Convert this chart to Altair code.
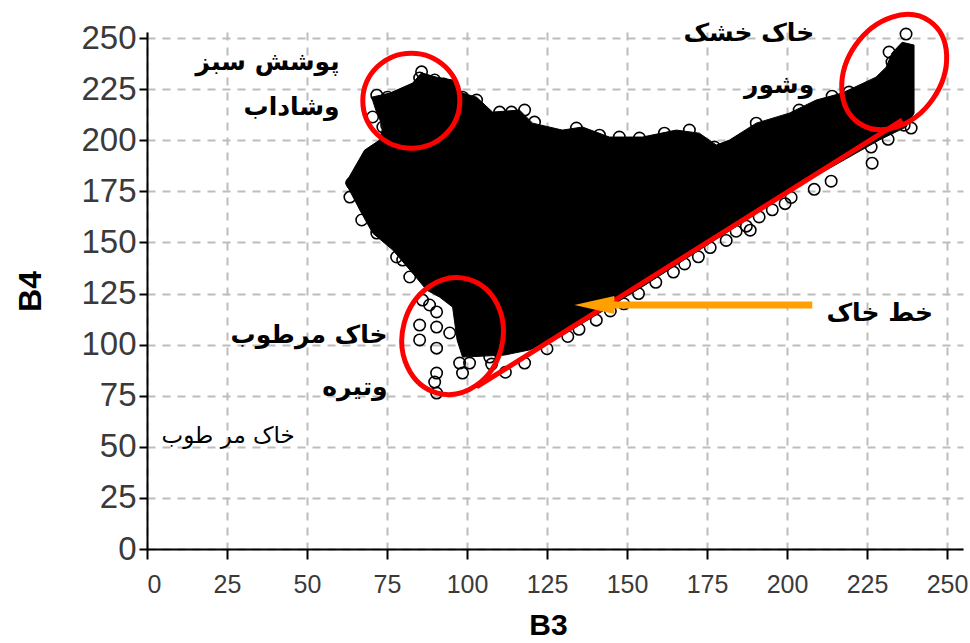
import altair as alt
import pandas as pd

# Outline of the dense core of the B3/B4 point cloud (clockwise)
cloud_b3 = [62.1, 68.0, 72.7, 73.7, 71.5, 70.2, 75.9, 83.0, 85.8, 90.5, 95.5, 98.6,
            103.0, 108.0, 116.4, 120.5, 129.8, 136.1, 144.5, 154.8, 165.4, 172.6,
            177.9, 182.0, 190.4, 200.7, 209.1, 217.2, 222.5, 227.8, 231.0, 232.8,
            236.0, 239.7,
            239.7, 237.2, 228.8, 205.1, 188.2, 172.6, 155.7, 141.4, 128.9, 119.5,
            111.7, 98.6, 96.9, 95.5, 91.4, 87.4, 83.0, 76.8, 70.5, 66.5]
cloud_b4 = [179.1, 195.2, 200.1, 206.5, 214.8, 221.1, 223.1, 228.0, 233.0, 230.9, 229.5, 223.1,
            221.1, 213.8, 214.8, 208.4, 205.0, 206.5, 201.6, 201.6, 205.0, 203.5,
            197.7, 200.1, 208.4, 213.3, 219.7, 223.1, 227.0, 230.9, 235.8, 242.7,
            248.0, 246.6,
            213.3, 206.5, 200.1, 179.1, 161.9, 146.3, 129.2, 115.5, 103.7, 97.4,
            94.9, 93.9, 102.3, 118.4, 123.3, 126.7, 135.0, 146.3, 154.6, 165.9]

# Isolated pixels around the edge of the cloud
edge_b3 = [85.8, 85.2, 89.9, 92.7, 71.8, 75.2, 79.0, 82.4, 73.7, 72.7, 70.5, 98.6,
           103.0, 110.2, 113.9, 118.0, 121.1, 134.2,
           141.4, 147.6, 153.9, 161.7, 169.5, 177.3, 190.4, 203.8, 214.1, 219.4,
           231.6, 231.9, 232.8, 237.2, 238.8, 236.6,
           226.3, 226.6, 231.6, 213.8, 208.5, 201.3, 199.4, 195.4, 191.3, 188.5,
           187.3, 184.1, 181.0, 176.0, 172.3, 168.0, 164.5, 159.0, 153.6, 149.0,
           144.8, 140.4, 135.0, 131.5, 125.0, 118.0, 112.0, 107.7, 98.6, 89.9,
           90.5, 85.2, 90.5, 85.2, 90.5, 94.6, 90.5, 90.5, 97.7, 100.8, 107.1,
           82.1, 78.0, 86.1, 88.3,
           64.0, 63.4, 67.1, 71.8, 79.9, 72.1, 74.9]
edge_b4 = [233.5, 230.5, 229.5, 227.5, 222.1, 221.1, 220.6, 219.7, 206.5, 196.2, 211.4, 221.1,
           219.7, 213.8, 213.8, 214.8, 208.9, 206.0,
           202.5, 201.6, 201.1, 203.5, 205.0, 196.7, 208.4, 214.8, 221.6, 223.6,
           229.5, 243.2, 238.3, 252.0, 206.0, 207.4,
           196.7, 188.8, 200.5, 180.0, 176.0, 172.0, 169.0, 166.0, 162.5, 156.0,
           158.0, 155.5, 151.0, 147.5, 143.0, 139.5, 135.5, 130.5, 125.0, 120.0,
           116.5, 112.0, 107.5, 104.0, 98.0, 91.0, 86.5, 90.5, 86.1, 81.7,
           116.0, 109.6, 108.6, 102.3, 98.3, 105.7, 86.1, 76.3, 91.0, 91.0, 93.9,
           133.1, 142.9, 121.8, 119.4,
           179.1, 172.2, 161.0, 154.6, 141.4, 195.2, 207.4]

# Soil line end points
soil_b3 = [103.0, 236.0]
soil_b4 = [79.3, 209.9]

# Highlighted regions: centre, diameter (px), axis ratio, rotation
region_b3 = [82.6, 233.5, 95.5]
region_b4 = [219.4, 233.4, 104.2]
region_diam = [97, 124, 118]
region_ratio = [0.98, 0.76, 0.85]
region_angle = [0, 125, 105]

# Arrow pointing at the soil line
arrow_b3 = [145.4, 207.9]
arrow_b4 = [119.4, 119.4]
arrow_head = [139.8, 119.4]

# Bold labels (right-aligned)
label_text = ["پوشش سبز", "وشاداب", "خاک خشک", "وشور", "خاک مرطوب", "وتیره", "خط خاک"]
label_b3 = [60.2, 60.2, 208.5, 208.5, 75.2, 75.2, 245.6]
label_b4 = [238.3, 216.2, 252.4, 227.0, 104.7, 79.3, 115.5]

note_text = ["خاک مر طوب"]
note_b3 = [46.2]
note_b4 = [55.3]

TICKS = list(range(0, 251, 25))

X = alt.X("b3:Q", scale=alt.Scale(domain=[0, 255], nice=False, zero=False),
          axis=alt.Axis(values=TICKS, title="B3", labelFont="Liberation Sans",
                        labelFontSize=25, labelColor="#3a3a3a", tickSize=10, labelPadding=13,
                        titleX=401, titleY=76, titleAlign="center", titleBaseline="middle",
                        titleFontSize=30))
Y = alt.Y("b4:Q", scale=alt.Scale(domain=[0, 253], nice=False, zero=False),
          axis=alt.Axis(values=TICKS, title="B4", labelFont="Liberation Sans",
                        labelFontSize=33, labelColor="#3a3a3a", tickSize=8, labelPadding=3,
                        titleX=-117, titleY=259, titleAngle=270, titleAlign="center",
                        titleBaseline="middle", titleFontSize=32))


def ellipse_path(r):
    k = 0.5523
    return (f"M 1 0 C 1 {k*r:.3f} {k:.3f} {r:.3f} 0 {r:.3f} "
            f"C {-k:.3f} {r:.3f} -1 {k*r:.3f} -1 0 "
            f"C -1 {-k*r:.3f} {-k:.3f} {-r:.3f} 0 {-r:.3f} "
            f"C {k:.3f} {-r:.3f} 1 {-k*r:.3f} 1 0 Z")


cloud = pd.DataFrame({"b3": cloud_b3 + [cloud_b3[0]], "b4": cloud_b4 + [cloud_b4[0]],
                      "i": list(range(len(cloud_b3) + 1))})
edges = pd.DataFrame({"b3": edge_b3, "b4": edge_b4})
soil = pd.DataFrame({"b3": soil_b3, "b4": soil_b4})
arrow = pd.DataFrame({"b3": arrow_b3, "b4": arrow_b4})
head = pd.DataFrame({"b3": [arrow_head[0]], "b4": [arrow_head[1]]})
labels = pd.DataFrame({"b3": label_b3, "b4": label_b4, "t": label_text})
notes = pd.DataFrame({"b3": note_b3, "b4": note_b4, "t": note_text})

layers = []
layers.append(alt.Chart(cloud).mark_line(fill="black", stroke="black", strokeWidth=1)
              .encode(x=X, y=Y, order="i:Q"))
layers.append(alt.Chart(edges).mark_point(shape="circle", size=130, filled=False,
                                          color="black", strokeWidth=1.6, opacity=1)
              .encode(x=X, y=Y))
layers.append(alt.Chart(soil).mark_line(color="#ff0000", strokeWidth=5).encode(x=X, y=Y))
for cx, cy, d, r, a in zip(region_b3, region_b4, region_diam, region_ratio, region_angle):
    df = pd.DataFrame({"b3": [cx], "b4": [cy]})
    layers.append(alt.Chart(df).mark_point(shape=ellipse_path(r), size=d * d, angle=a,
                                           filled=False, color="#ff0000", strokeWidth=5,
                                           opacity=1)
                  .encode(x=X, y=Y))
layers.append(alt.Chart(arrow).mark_line(color="#ffa000", strokeWidth=7).encode(x=X, y=Y))
layers.append(alt.Chart(head).mark_point(shape="M -1 0 L 1 -0.45 L 1 0.45 Z", size=1600,
                                         filled=True, color="#ffa000", opacity=1)
              .encode(x=X, y=Y))
layers.append(alt.Chart(labels).mark_text(align="right", baseline="middle", font="DejaVu Sans",
                                          fontSize=25, fontWeight="bold", color="black")
              .encode(x=X, y=Y, text="t:N"))
layers.append(alt.Chart(notes).mark_text(align="right", baseline="middle", font="DejaVu Sans",
                                         fontSize=23, color="black")
              .encode(x=X, y=Y, text="t:N"))

chart = alt.layer(*layers).properties(
    width=816, height=517,
    autosize=alt.AutoSizeParams(type="none"),
    padding={"left": 147, "top": 32, "right": 7, "bottom": 94},
).configure_view(stroke=None).configure_axis(
    grid=True, gridColor="#bdbdbd", gridDash=[8, 7], gridWidth=2,
    domainColor="black", domainWidth=2, tickColor="black", tickWidth=2,
    titleFont="Liberation Sans", titleFontWeight="bold", titleColor="black",
)

chart.save("out.html", embed_options={"renderer": "svg", "actions": False})
